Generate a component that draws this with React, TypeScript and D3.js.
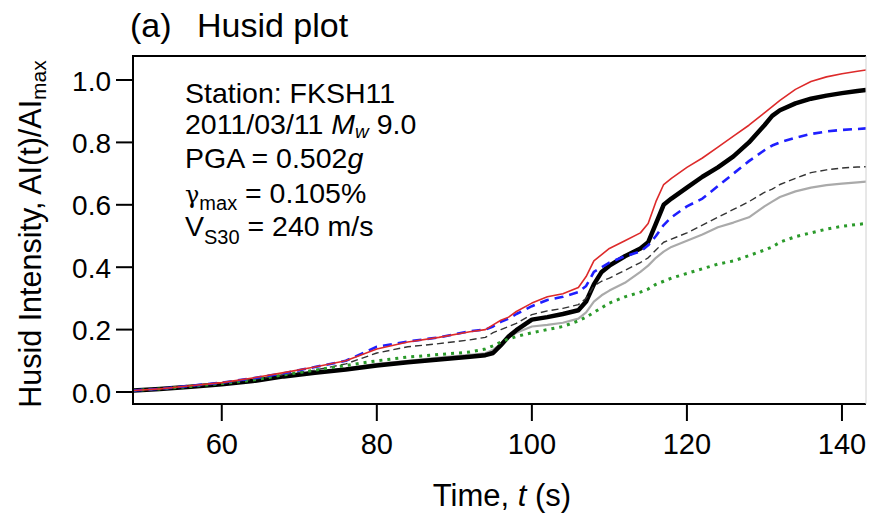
import React from "react";
import * as d3 from "d3";

// ---- data ----
const time = [48.6, 52, 56, 60, 64, 68, 72, 76, 80, 84, 88, 92, 94, 95, 96, 97, 98, 100, 102, 104, 106, 107, 108, 109, 110, 112, 114, 115, 116, 117, 118, 120, 122, 124, 126, 128, 130, 131, 132, 134, 136, 138, 140, 142, 143.1];

const redSeries = [0.005, 0.01, 0.02, 0.03, 0.045, 0.062, 0.08, 0.1, 0.138, 0.16, 0.175, 0.193, 0.2, 0.215, 0.23, 0.24, 0.258, 0.285, 0.305, 0.315, 0.335, 0.37, 0.42, 0.44, 0.46, 0.485, 0.51, 0.54, 0.61, 0.665, 0.685, 0.72, 0.75, 0.785, 0.82, 0.855, 0.895, 0.915, 0.935, 0.97, 0.995, 1.01, 1.02, 1.028, 1.032];
const blackThick = [0.005, 0.01, 0.017, 0.025, 0.035, 0.05, 0.062, 0.072, 0.085, 0.095, 0.104, 0.113, 0.118, 0.125, 0.15, 0.178, 0.198, 0.232, 0.24, 0.25, 0.262, 0.29, 0.345, 0.385, 0.405, 0.435, 0.46, 0.48, 0.54, 0.6, 0.62, 0.655, 0.69, 0.72, 0.755, 0.8, 0.855, 0.885, 0.903, 0.925, 0.94, 0.95, 0.958, 0.965, 0.968];
const blueDashed = [0.005, 0.01, 0.02, 0.03, 0.044, 0.06, 0.08, 0.1, 0.145, 0.162, 0.175, 0.195, 0.2, 0.21, 0.225, 0.235, 0.25, 0.275, 0.295, 0.305, 0.32, 0.34, 0.385, 0.4, 0.415, 0.435, 0.45, 0.47, 0.5, 0.535, 0.56, 0.595, 0.62, 0.66, 0.7, 0.74, 0.775, 0.79, 0.8, 0.815, 0.827, 0.835, 0.84, 0.843, 0.845];
const blackDashed = [0.005, 0.01, 0.018, 0.028, 0.04, 0.055, 0.07, 0.09, 0.125, 0.145, 0.155, 0.167, 0.175, 0.19, 0.2, 0.21, 0.22, 0.248, 0.26, 0.268, 0.28, 0.3, 0.34, 0.355, 0.365, 0.39, 0.415, 0.43, 0.455, 0.48, 0.49, 0.51, 0.535, 0.56, 0.585, 0.61, 0.64, 0.65, 0.665, 0.685, 0.703, 0.712, 0.718, 0.721, 0.722];
const graySeries = [0.005, 0.01, 0.017, 0.026, 0.036, 0.052, 0.065, 0.075, 0.09, 0.1, 0.11, 0.119, 0.124, 0.135, 0.155, 0.175, 0.19, 0.21, 0.215, 0.222, 0.235, 0.255, 0.29, 0.31, 0.325, 0.35, 0.385, 0.405, 0.43, 0.45, 0.465, 0.485, 0.505, 0.528, 0.543, 0.56, 0.595, 0.61, 0.625, 0.643, 0.655, 0.663, 0.668, 0.672, 0.674];
const greenDotted = [0.005, 0.01, 0.018, 0.027, 0.038, 0.055, 0.07, 0.085, 0.1, 0.112, 0.12, 0.128, 0.138, 0.148, 0.16, 0.17, 0.178, 0.19, 0.2, 0.21, 0.228, 0.24, 0.255, 0.27, 0.285, 0.305, 0.32, 0.33, 0.345, 0.355, 0.365, 0.38, 0.395, 0.41, 0.42, 0.437, 0.455, 0.465, 0.48, 0.498, 0.51, 0.522, 0.531, 0.537, 0.54];

const xTicks = [60, 80, 100, 120, 140];
const yTicks = [0.0, 0.2, 0.4, 0.6, 0.8, 1.0];

const FONT = "'Liberation Sans', Arial, Helvetica, sans-serif";

export default function App() {
  const W = 869, H = 514;
  const left = 133, right = 866, top = 56, bottom = 404;
  const x = d3.scaleLinear().domain([48.55, 143.1]).range([left, right]);
  const y = d3.scaleLinear().domain([0, 1]).range([392, 80]);

  const line = (vals: number[]) =>
    d3.line<number>().x((_, i) => x(time[i])).y((v) => y(v))(vals) || "";

  const series = [
    { vals: graySeries, stroke: "#aaaaaa", w: 2.2, dash: undefined as string | undefined },
    { vals: blackThick, stroke: "#000", w: 4.5, dash: undefined },
    { vals: blackDashed, stroke: "#333", w: 1.4, dash: "7,4" },
    { vals: greenDotted, stroke: "#2a9a2a", w: 3, dash: "3,5" },
    { vals: blueDashed, stroke: "#1f1fff", w: 2.6, dash: "9,6" },
    { vals: redSeries, stroke: "#dd2a2a", w: 1.6, dash: undefined },
  ];

  return (
    <svg width={W} height={H} style={{ position: "absolute", left: 0, top: 0, background: "#fff" }} fontFamily={FONT}>
      <defs>
        <clipPath id="plotclip">
          <rect x={left} y={top} width={right - left} height={bottom - top} />
        </clipPath>
      </defs>
      <rect x={0} y={0} width={W} height={H} fill="#fff" />

      {/* title */}
      <text x={130} y={37} fontSize={34} fill="#000">(a)</text>
      <text x={197} y={37} fontSize={34} fill="#000">Husid plot</text>

      {/* series */}
      <g clipPath="url(#plotclip)">
        {series.map((s, i) => (
          <path key={i} d={line(s.vals)} fill="none" stroke={s.stroke} strokeWidth={s.w}
            strokeDasharray={s.dash} strokeLinejoin="round" />
        ))}
      </g>

      {/* frame */}
      <line x1={left} y1={top} x2={right} y2={top} stroke="#000" strokeWidth={2} />
      <line x1={left} y1={top - 1} x2={left} y2={bottom + 1} stroke="#000" strokeWidth={2} />
      <line x1={left - 1} y1={bottom} x2={right} y2={bottom} stroke="#000" strokeWidth={2} />
      <line x1={right} y1={top} x2={right} y2={bottom} stroke="#d0d0d0" strokeWidth={1} />

      {/* y axis */}
      {yTicks.map((t) => (
        <g key={t}>
          <line x1={left - 17} x2={left} y1={y(t)} y2={y(t)} stroke="#000" strokeWidth={2} />
          <text x={111} y={y(t) + 10.5} fontSize={28} textAnchor="end">{t.toFixed(1)}</text>
        </g>
      ))}

      {/* x axis */}
      {xTicks.map((t) => (
        <g key={t}>
          <line x1={x(t)} x2={x(t)} y1={bottom} y2={bottom + 17} stroke="#000" strokeWidth={2} />
          <text x={x(t)} y={454} fontSize={29} textAnchor="middle">{t}</text>
        </g>
      ))}

      {/* axis titles */}
      <text x={502} y={506} fontSize={31} textAnchor="middle">
        Time, <tspan fontStyle="italic">t</tspan> (s)
      </text>
      <text transform="translate(41,234) rotate(-90)" fontSize={30.5} textAnchor="middle">
        Husid Intensity, AI(t)/AI<tspan fontSize={21} dy={5}>max</tspan>
      </text>

      {/* annotation */}
      <g fontSize={28.5}>
        <text x={185} y={103}>Station: FKSH11</text>
        <text x={185} y={134}>
          2011/03/11 <tspan fontStyle="italic">M</tspan>
          <tspan fontStyle="italic" fontSize={19} dy={4}>w</tspan>
          <tspan dy={-4}> 9.0</tspan>
        </text>
        <text x={185} y={168}>
          PGA = 0.502<tspan fontStyle="italic">g</tspan>
        </text>
        <text x={185} y={203}>
          <tspan fontSize={24} fontFamily="'DejaVu Serif', serif">γ</tspan>
          <tspan fontSize={20} dy={7}>max</tspan>
          <tspan dy={-7}> = 0.105%</tspan>
        </text>
        <text x={185} y={236}>
          V<tspan fontSize={20} dy={8}>S30</tspan>
          <tspan dy={-8}> = 240 m/s</tspan>
        </text>
      </g>
    </svg>
  );
}
